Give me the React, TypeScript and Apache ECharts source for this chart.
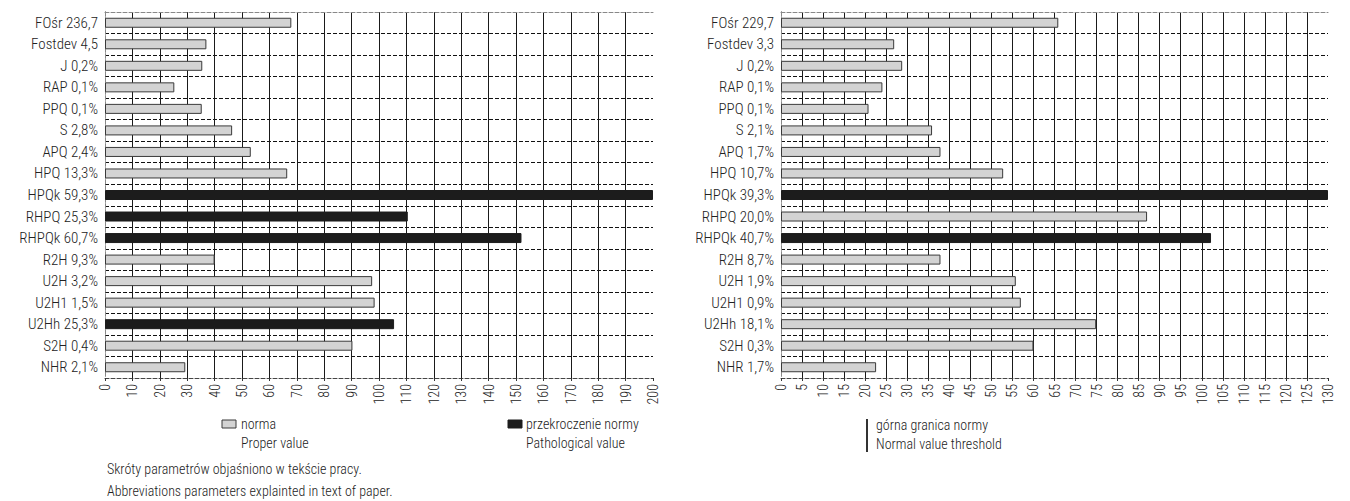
import React, { useEffect, useRef } from "react";
import * as echarts from "echarts";

const leftCategories = [
  "FOśr 236,7", "Fostdev 4,5", "J 0,2%", "RAP 0,1%", "PPQ 0,1%", "S 2,8%", "APQ 2,4%",
  "HPQ 13,3%", "HPQk 59,3%", "RHPQ 25,3%", "RHPQk 60,7%", "R2H 9,3%", "U2H 3,2%",
  "U2H1 1,5%", "U2Hh 25,3%", "S2H 0,4%", "NHR 2,1%",
];
const leftValues = [68, 37, 35.5, 25.3, 35.3, 46.4, 53.2, 66.5, 200, 110.5, 152, 40, 97.5, 98.4, 105.5, 90.3, 29.3];
const leftExceeded = [0, 0, 0, 0, 0, 0, 0, 0, 1, 1, 1, 0, 0, 0, 1, 0, 0];

const rightCategories = [
  "FOśr 229,7", "Fostdev 3,3", "J 0,2%", "RAP 0,1%", "PPQ 0,1%", "S 2,1%", "APQ 1,7%",
  "HPQ 10,7%", "HPQk 39,3%", "RHPQ 20,0%", "RHPQk 40,7%", "R2H 8,7%", "U2H 1,9%",
  "U2H1 0,9%", "U2Hh 18,1%", "S2H 0,3%", "NHR 1,7%",
];
const rightValues = [65.9, 26.9, 28.8, 24.1, 20.8, 35.9, 37.9, 52.8, 130, 87, 102.2, 37.9, 55.8, 57, 74.9, 60, 22.6];
const rightExceeded = [0, 0, 0, 0, 0, 0, 0, 0, 1, 0, 1, 0, 0, 0, 0, 0, 0];

const leftMax = 200;
const leftStep = 10;
const rightMax = 130;
const rightStep = 5;

const FONT = "'Roboto Condensed','Liberation Sans Narrow','DejaVu Sans Condensed',Roboto,sans-serif";
const FONT_SIZE = 15;
const FONT_WEIGHT = 300;
const GRAY = "#d3d3d3";
const BLACK = "#1c1c1c";

function barData(values: number[], flags: number[]) {
  return values.map((v, i) => ({
    value: v,
    itemStyle: flags[i]
      ? { color: BLACK, borderColor: BLACK, borderWidth: 1 }
      : { color: GRAY, borderColor: "#3a3a3a", borderWidth: 1 },
  }));
}

function valueAxes(gridIndex: number, max: number, step: number) {
  return [
    {
      type: "value",
      gridIndex,
      min: 0,
      max,
      interval: step,
      axisLine: { show: true, lineStyle: { color: "#444", type: [4, 2], width: 1 } },
      axisTick: { show: true, length: 3, lineStyle: { color: "#333" } },
      axisLabel: { rotate: 90, fontSize: 14, fontWeight: FONT_WEIGHT, color: "#222", fontFamily: FONT, margin: 6 },
      splitLine: {
        show: true,
        showMinLine: false,
        showMaxLine: false,
        lineStyle: { color: "#1a1a1a", width: 1, type: "solid" },
      },
    },
    {
      type: "value",
      gridIndex,
      position: "top",
      min: 0,
      max,
      interval: step,
      axisLine: { show: true, lineStyle: { color: "#888", type: [4, 2], width: 1 } },
      axisTick: { show: false },
      axisLabel: { show: false },
      splitLine: { show: false },
    },
  ];
}

function catAxes(gridIndex: number, cats: string[]) {
  return [
    {
      type: "category",
      gridIndex,
      inverse: true,
      data: cats,
      axisLine: { show: true, lineStyle: { color: "#444", type: [4, 2], width: 1 } },
      axisTick: { show: false },
      axisLabel: { fontSize: FONT_SIZE, fontWeight: FONT_WEIGHT, color: "#222", fontFamily: FONT, margin: 7, interval: 0 },
      splitLine: {
        show: true,
        interval: 0,
        showMinLine: false,
        showMaxLine: false,
        lineStyle: { color: "#111", type: [4, 2], width: 1 },
      },
    },
    {
      type: "category",
      gridIndex,
      inverse: true,
      position: "right",
      data: cats,
      axisLine: { show: true, lineStyle: { color: "#888", type: [4, 2], width: 1 } },
      axisTick: { show: false },
      axisLabel: { show: false },
      splitLine: { show: false },
    },
  ];
}

export default function App() {
  const ref = useRef<HTMLDivElement>(null);

  useEffect(() => {
    if (!ref.current) return;
    const chart = echarts.init(ref.current, undefined, { renderer: "svg" });
    const textStyle = { fontSize: 14, fontWeight: FONT_WEIGHT, fill: "#222", fontFamily: FONT };
    chart.setOption({
      animation: false,
      backgroundColor: "#fff",
      grid: [
        { left: 105, top: 12, width: 548, height: 366 },
        { left: 781, top: 12, width: 547, height: 366 },
      ],
      xAxis: [...valueAxes(0, leftMax, leftStep), ...valueAxes(1, rightMax, rightStep)],
      yAxis: [...catAxes(0, leftCategories), ...catAxes(1, rightCategories)],
      series: [
        {
          type: "bar",
          xAxisIndex: 0,
          yAxisIndex: 0,
          barWidth: 10,
          data: barData(leftValues, leftExceeded),
        },
        {
          type: "bar",
          xAxisIndex: 2,
          yAxisIndex: 2,
          barWidth: 10,
          data: barData(rightValues, rightExceeded),
        },
      ],
      graphic: [
        { type: "rect", shape: { x: 222, y: 420, width: 14, height: 8 }, style: { fill: GRAY, stroke: "#3a3a3a", lineWidth: 1 } },
        { type: "text", x: 241, y: 424, style: { ...textStyle, text: "norma", verticalAlign: "middle" } },
        { type: "text", x: 241, y: 443, style: { ...textStyle, text: "Proper value", verticalAlign: "middle" } },
        { type: "rect", shape: { x: 508, y: 420, width: 14, height: 8 }, style: { fill: BLACK, stroke: BLACK, lineWidth: 1 } },
        { type: "text", x: 526, y: 424, style: { ...textStyle, text: "przekroczenie normy", verticalAlign: "middle" } },
        { type: "text", x: 526, y: 443, style: { ...textStyle, text: "Pathological value", verticalAlign: "middle" } },
        { type: "text", x: 107, y: 469, style: { ...textStyle, text: "Skróty parametrów objaśniono w tekście pracy.", verticalAlign: "middle" } },
        { type: "text", x: 107, y: 491, style: { ...textStyle, text: "Abbreviations parameters explainted in text of paper.", verticalAlign: "middle" } },
        { type: "line", shape: { x1: 867, y1: 419, x2: 867, y2: 452 }, style: { stroke: "#333", lineWidth: 2 } },
        { type: "text", x: 876, y: 425, style: { ...textStyle, text: "górna granica normy", verticalAlign: "middle" } },
        { type: "text", x: 876, y: 444, style: { ...textStyle, text: "Normal value threshold", verticalAlign: "middle" } },
      ],
    });
    return () => chart.dispose();
  }, []);

  return <div ref={ref} style={{ position: "absolute", left: 0, top: 0, width: 1350, height: 501 }} />;
}
